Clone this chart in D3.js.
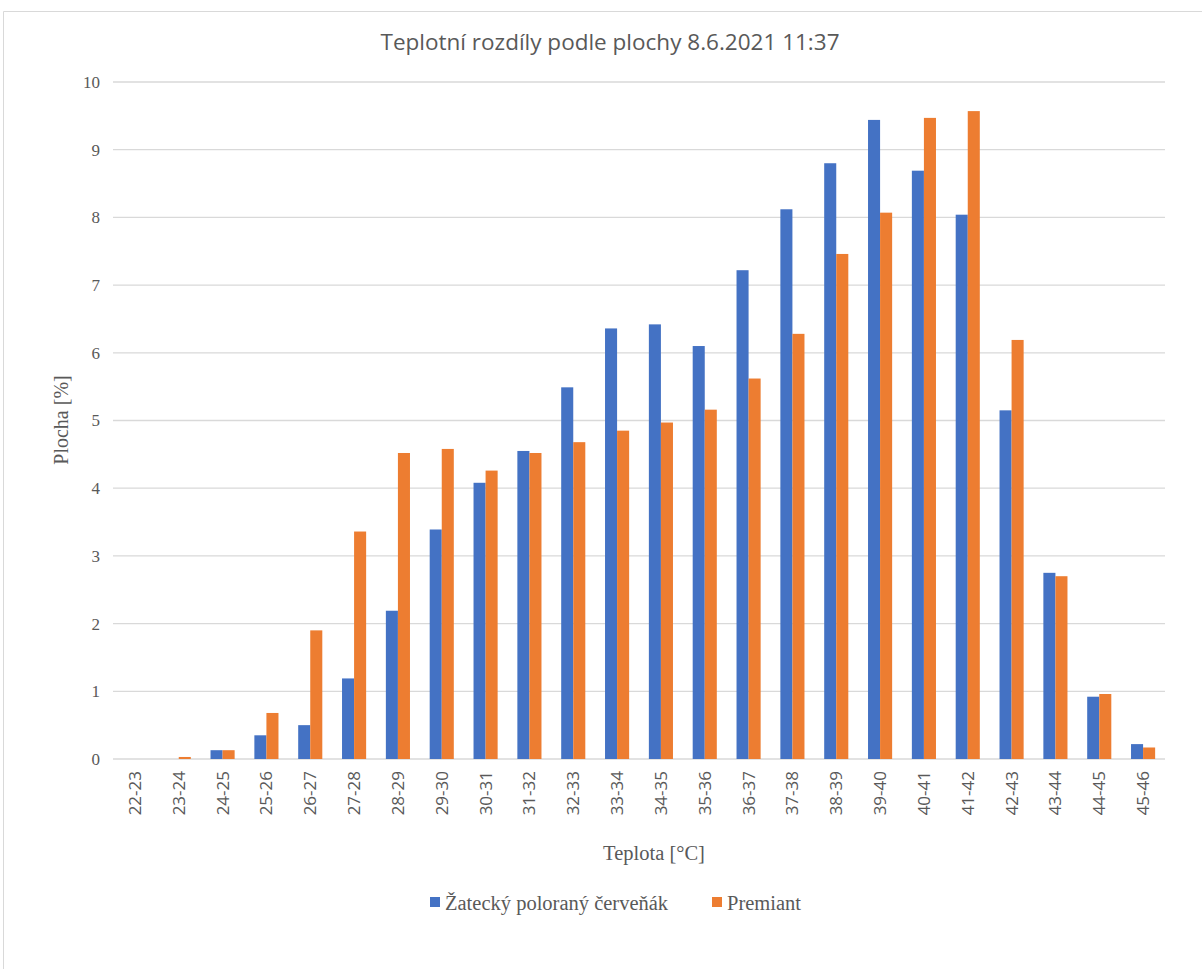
<!DOCTYPE html>
<html><head><meta charset="utf-8">
<script src="https://cdn.jsdelivr.net/npm/d3@7"></script>
<style>body{margin:0;background:#fff}svg{display:block}</style>
</head><body>
<script>
const categories = ["22-23","23-24","24-25","25-26","26-27","27-28","28-29","29-30","30-31","31-32","32-33","33-34","34-35","35-36","36-37","37-38","38-39","39-40","40-41","41-42","42-43","43-44","44-45","45-46"];
const zatecky = [0,0,0.13,0.35,0.5,1.19,2.19,3.39,4.08,4.55,5.49,6.36,6.42,6.1,7.22,8.12,8.8,9.44,8.69,8.04,5.15,2.75,0.92,0.22];
const premiant = [0,0.03,0.13,0.68,1.9,3.36,4.52,4.58,4.26,4.52,4.68,4.85,4.97,5.16,5.62,6.28,7.46,8.07,9.47,9.57,6.19,2.7,0.96,0.17];
const seriesNames = ["Žatecký poloraný červeňák","Premiant"];
const yTicks = [0,1,2,3,4,5,6,7,8,9,10];
const title = "Teplotní rozdíly podle plochy 8.6.2021 11:37";

const W=1202,H=969;
const colors=["#4472c4","#ed7d31"];
const svg=d3.select("body").append("svg").attr("width",W).attr("height",H);
// frame
svg.append("line").attr("x1",3.5).attr("x2",W).attr("y1",11.5).attr("y2",11.5).attr("stroke","#d9d9d9");
svg.append("line").attr("x1",3.5).attr("x2",3.5).attr("y1",11.5).attr("y2",H).attr("stroke","#d9d9d9");

const x0=113,x1=1165,yTop=82,yBot=759;
const x=d3.scaleBand().domain(categories).range([x0,x1]).paddingInner(0.45).paddingOuter(0.225);
const xs=d3.scaleBand().domain([0,1]).range([0,x.bandwidth()]);
const y=d3.scaleLinear().domain([0,10]).range([yBot,yTop]);

svg.append("text").attr("x",610).attr("y",50).attr("text-anchor","middle")
  .attr("font-family","'Open Sans',sans-serif").attr("font-size",22.5).attr("fill","#595959").text(title);

// grid
svg.append("g").selectAll("line").data(yTicks).join("line")
  .attr("x1",x0).attr("x2",x1).attr("y1",d=>y(d)).attr("y2",d=>y(d))
  .attr("stroke","#d9d9d9").attr("stroke-width",1.3);

// y axis labels
const ya=svg.append("g").attr("transform",`translate(${x0-13},0)`).call(d3.axisLeft(y).tickValues(yTicks).tickSize(0).tickPadding(0));
ya.select(".domain").remove();
ya.selectAll("text").attr("font-family","'Liberation Serif',serif").attr("font-size",17).attr("fill","#595959");

// bars
const data=[zatecky,premiant];
data.forEach((arr,si)=>{
  svg.append("g").selectAll("rect").data(categories).join("rect")
    .attr("x",(c)=>x(c)+xs(si)).attr("width",xs.bandwidth())
    .attr("y",(c,i)=>y(arr[i])).attr("height",(c,i)=>yBot-y(arr[i]))
    .attr("fill",colors[si]);
});

// x axis labels
const xa=svg.append("g").attr("transform",`translate(0,${yBot})`).call(d3.axisBottom(x).tickSize(0).tickPadding(0));
xa.select(".domain").remove();
xa.selectAll("text").attr("transform","rotate(-90)").attr("text-anchor","end").attr("dx","-12").attr("dy","0.35em").attr("y",0)
  .attr("font-family","'Open Sans',sans-serif").attr("font-size",17).attr("fill","#595959");

// axis titles
svg.append("text").attr("x",654).attr("y",860).attr("text-anchor","middle")
  .attr("font-family","'Liberation Serif',serif").attr("font-size",20.5).attr("fill","#595959").text("Teplota [°C]");
svg.append("text").attr("transform","translate(68,420) rotate(-90)").attr("text-anchor","middle")
  .attr("font-family","'Liberation Serif',serif").attr("font-size",20).attr("fill","#595959").text("Plocha [%]");

// legend
const lg=svg.append("g");
const lx=[430,712];
seriesNames.forEach((n,i)=>{
  lg.append("rect").attr("x",lx[i]).attr("y",897).attr("width",10).attr("height",10).attr("fill",colors[i]);
  lg.append("text").attr("x",lx[i]+15).attr("y",910).attr("font-family","'Liberation Serif',serif").attr("font-size",20.5).attr("fill","#595959").text(n);
});
</script>
</body></html>
